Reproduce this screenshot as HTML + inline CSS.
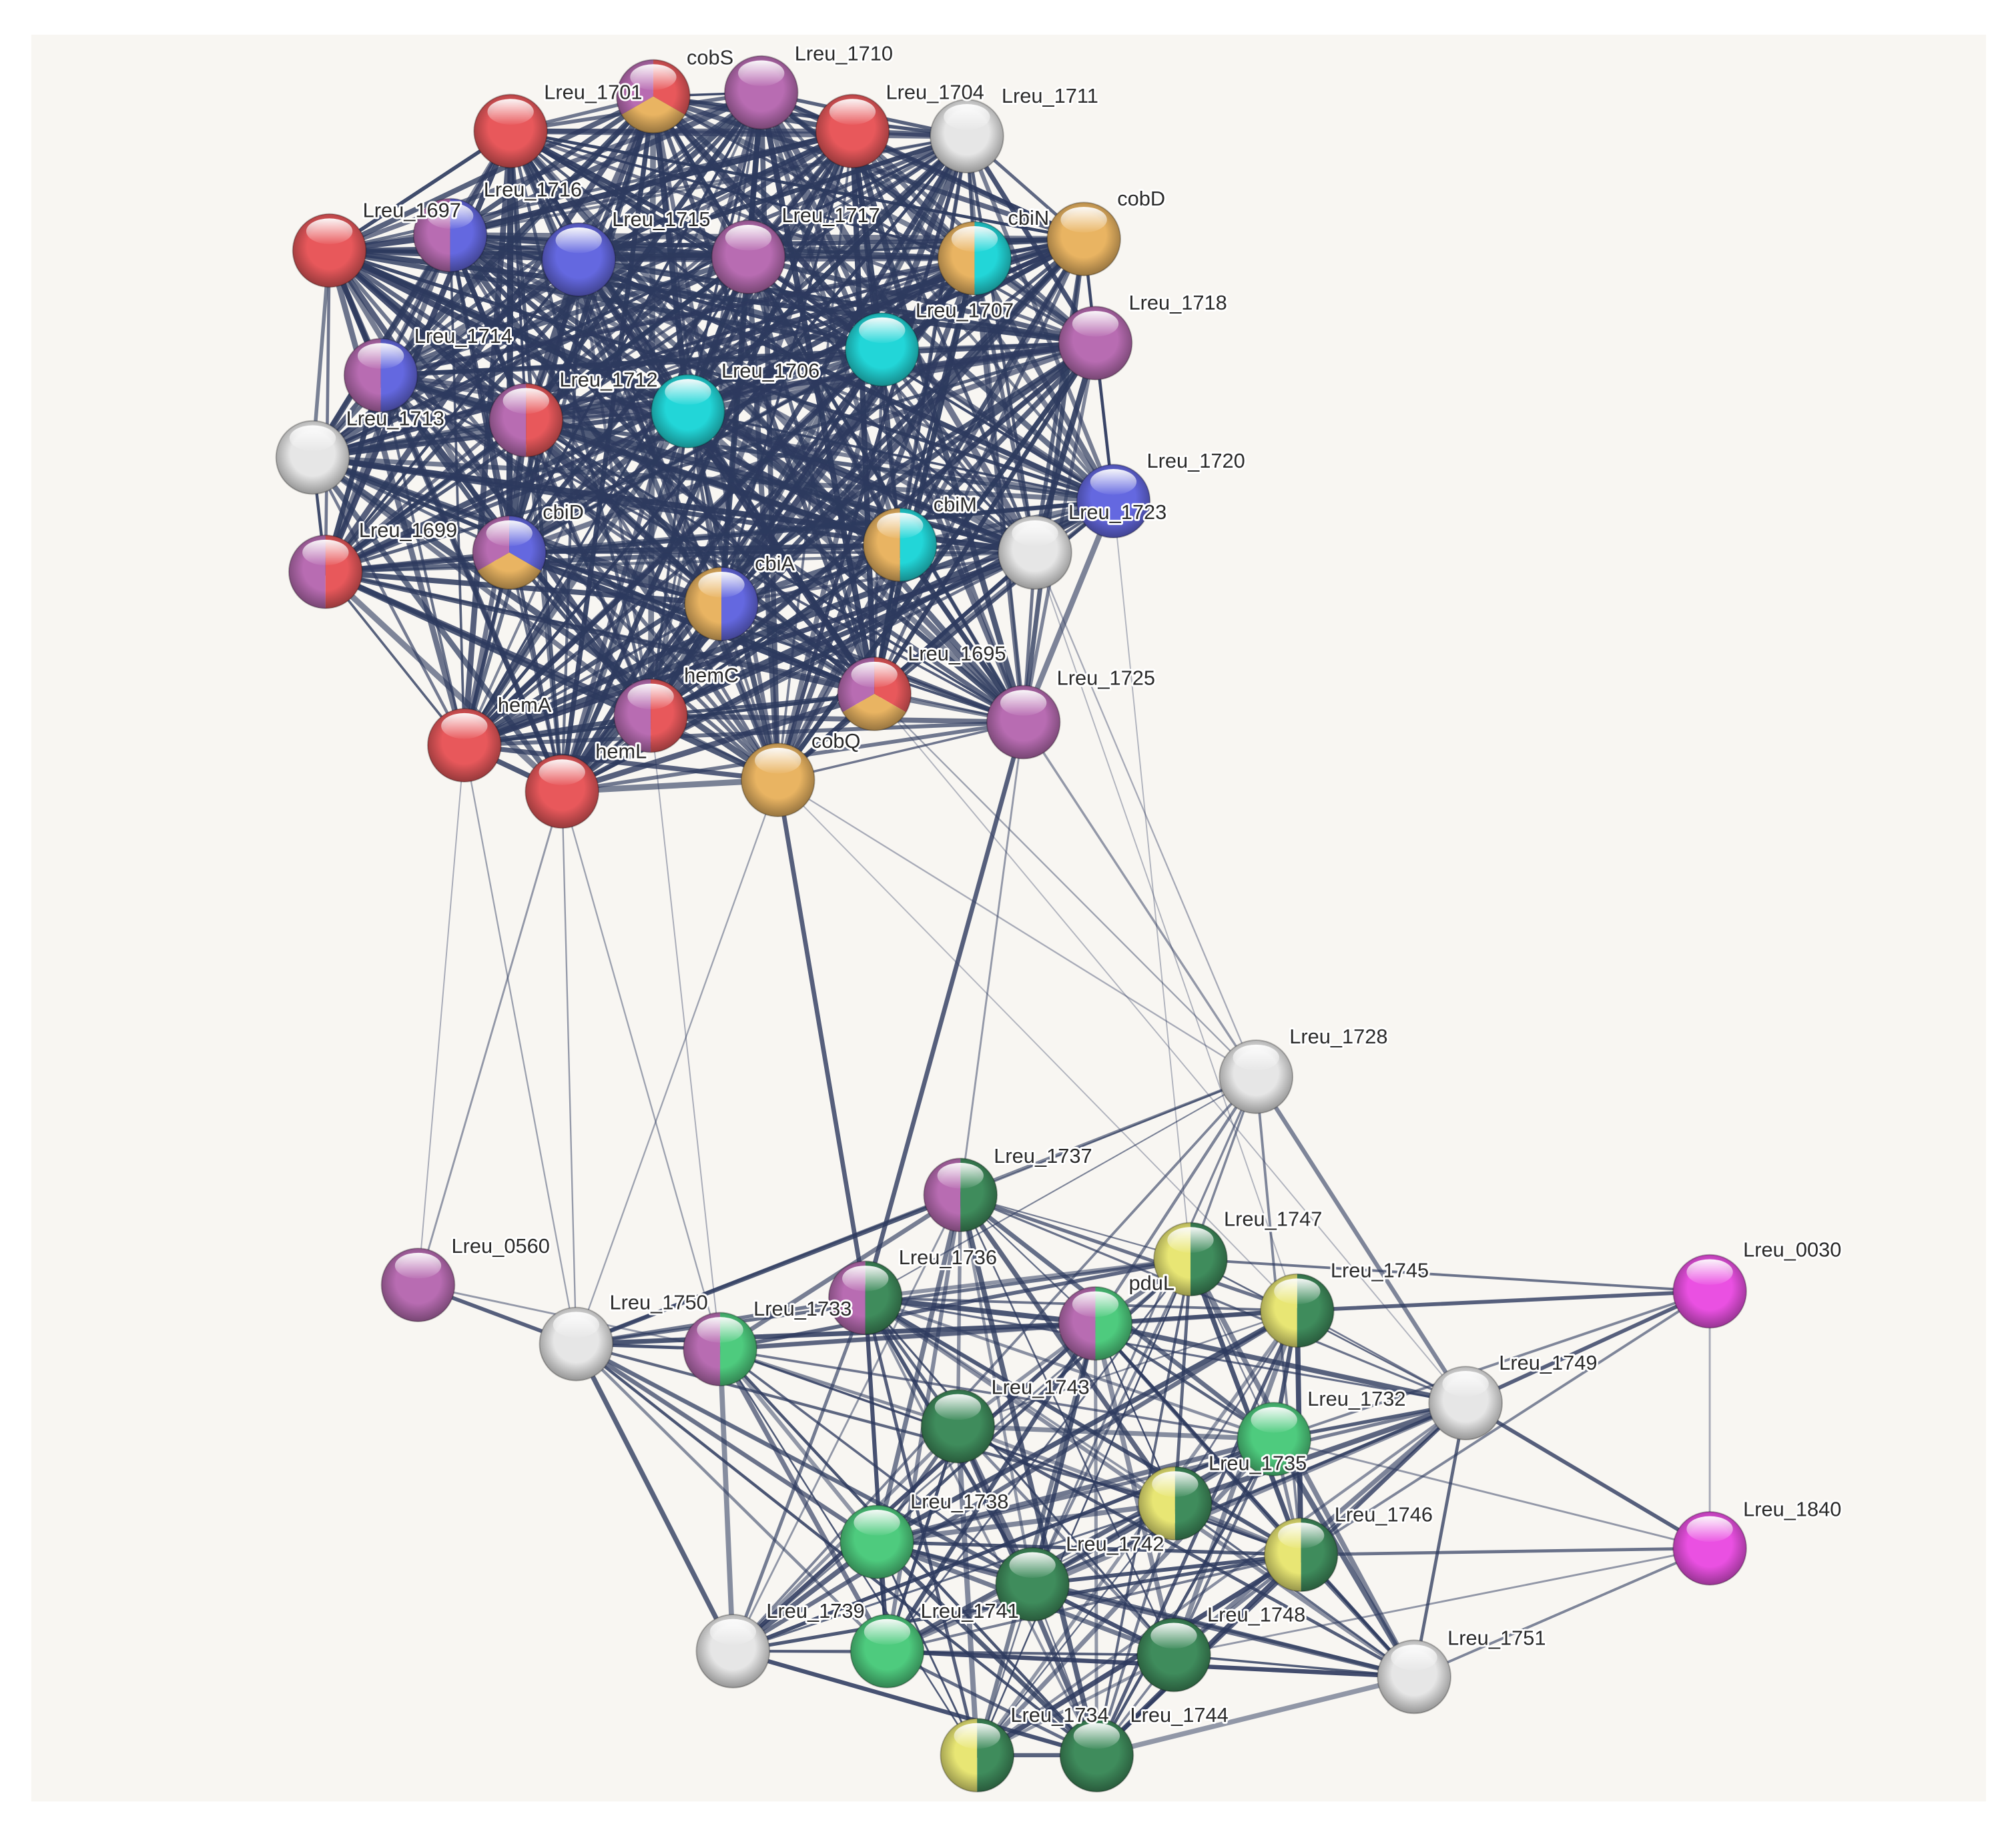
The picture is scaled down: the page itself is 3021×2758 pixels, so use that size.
<!DOCTYPE html>
<html><head><meta charset="utf-8"><style>
html,body{margin:0;padding:0;background:#fff;}
svg{display:block}
text{font-family:"Liberation Sans",Arial,sans-serif;font-size:16px;fill:#2a2a2a;stroke:#fff;stroke-width:3px;paint-order:stroke;stroke-linejoin:round}
</style></head><body>
<svg id="s" width="3021" height="2758" viewBox="0 0 1568 1432" xmlns="http://www.w3.org/2000/svg">
<defs>
<radialGradient id="shade" cx="50%" cy="45%" r="55%">
<stop offset="0.55" stop-color="#000" stop-opacity="0"/>
<stop offset="1" stop-color="#000" stop-opacity="0.35"/>
</radialGradient>
<linearGradient id="gloss" x1="0" y1="0" x2="0" y2="1">
<stop offset="0" stop-color="#fff" stop-opacity="0.95"/>
<stop offset="1" stop-color="#fff" stop-opacity="0.05"/>
</linearGradient>
</defs>
<rect x="0" y="0" width="1568" height="1432" fill="#fff"/>
<rect x="24" y="27" width="1521" height="1375" fill="#f8f6f2"/>
<g id="edges"></g>
<g id="nodes"></g>
<g id="labels">
<text x="534" y="50">cobS</text>
<text x="618" y="47">Lreu_1710</text>
<text x="423" y="77">Lreu_1701</text>
<text x="689" y="77">Lreu_1704</text>
<text x="779" y="80">Lreu_1711</text>
<text x="282" y="169">Lreu_1697</text>
<text x="376" y="153">Lreu_1716</text>
<text x="476" y="176">Lreu_1715</text>
<text x="608" y="173">Lreu_1717</text>
<text x="784" y="175">cbiN</text>
<text x="869" y="160">cobD</text>
<text x="712" y="247">Lreu_1707</text>
<text x="878" y="241">Lreu_1718</text>
<text x="322" y="267">Lreu_1714</text>
<text x="435" y="301">Lreu_1712</text>
<text x="561" y="294">Lreu_1706</text>
<text x="269" y="331">Lreu_1713</text>
<text x="892" y="364">Lreu_1720</text>
<text x="831" y="404">Lreu_1723</text>
<text x="726" y="398">cbiM</text>
<text x="279" y="418">Lreu_1699</text>
<text x="422" y="404">cbiD</text>
<text x="587" y="444">cbiA</text>
<text x="706" y="514">Lreu_1695</text>
<text x="822" y="533">Lreu_1725</text>
<text x="532" y="531">hemC</text>
<text x="387" y="554">hemA</text>
<text x="463" y="590">hemL</text>
<text x="631" y="582">cobQ</text>
<text x="1003" y="812">Lreu_1728</text>
<text x="773" y="905">Lreu_1737</text>
<text x="351" y="975">Lreu_0560</text>
<text x="952" y="954">Lreu_1747</text>
<text x="699" y="984">Lreu_1736</text>
<text x="474" y="1019">Lreu_1750</text>
<text x="586" y="1024">Lreu_1733</text>
<text x="878" y="1004">pduL</text>
<text x="1035" y="994">Lreu_1745</text>
<text x="1356" y="978">Lreu_0030</text>
<text x="1166" y="1066">Lreu_1749</text>
<text x="771" y="1085">Lreu_1743</text>
<text x="1017" y="1094">Lreu_1732</text>
<text x="940" y="1144">Lreu_1735</text>
<text x="708" y="1174">Lreu_1738</text>
<text x="1038" y="1184">Lreu_1746</text>
<text x="1356" y="1180">Lreu_1840</text>
<text x="829" y="1207">Lreu_1742</text>
<text x="596" y="1259">Lreu_1739</text>
<text x="716" y="1259">Lreu_1741</text>
<text x="939" y="1262">Lreu_1748</text>
<text x="1126" y="1280">Lreu_1751</text>
<text x="786" y="1340">Lreu_1734</text>
<text x="879" y="1340">Lreu_1744</text>
</g>
</svg>
<script>
var R='#e8585b',P='#b86cb2',B='#6468e0',C='#22d6d8',O='#e9b462',W='#e6e6e6',D='#3f8c5c',L='#4ecb7e',Y='#e8e674',M='#ea50e2';
var N={
cobS:[508,75,[P,R,O]],l1710:[592,72,[P]],l1701:[397,102,[R]],l1704:[663,102,[R]],l1711:[752,106,[W]],
l1697:[256,195,[R]],l1716:[350,183,[P,B]],l1715:[450,202,[B]],l1717:[582,200,[P]],cbiN:[758,201,[O,C]],cobD:[843,186,[O]],
l1707:[686,272,[C]],l1718:[852,267,[P]],l1714:[296,292,[P,B]],l1712:[409,327,[P,R]],l1706:[535,320,[C]],l1713:[243,356,[W]],
l1720:[866,390,[B]],l1723:[805,430,[W]],cbiM:[700,424,[O,C]],l1699:[253,445,[P,R]],cbiD:[396,430,[P,B,O]],cbiA:[561,470,[O,B]],
l1695:[680,540,[P,R,O]],l1725:[796,562,[P]],hemC:[506,557,[P,R]],hemA:[361,580,[R]],hemL:[437,616,[R]],cobQ:[605,607,[O]],
l1728:[977,838,[W]],l1737:[747,930,[P,D]],l0560:[325,1000,[P]],l1747:[926,980,[Y,D]],l1736:[673,1010,[P,D]],l1750:[448,1046,[W]],
l1733:[560,1050,[P,L]],pduL:[852,1030,[P,L]],l1745:[1009,1020,[Y,D]],l0030:[1330,1005,[M]],l1749:[1140,1092,[W]],
l1743:[745,1110,[D]],l1732:[991,1120,[L]],l1735:[914,1170,[Y,D]],l1738:[682,1200,[L]],l1746:[1012,1210,[Y,D]],
l1840:[1330,1205,[M]],l1742:[803,1233,[D]],l1739:[570,1285,[W]],l1741:[690,1285,[L]],l1748:[913,1288,[D]],l1751:[1100,1305,[W]],
l1734:[760,1366,[Y,D]],l1744:[853,1366,[D]]};
var topN=['cobS','l1710','l1701','l1704','l1711','l1697','l1716','l1715','l1717','cbiN','cobD','l1707','l1718','l1714','l1712','l1706','l1713','l1720','l1723','cbiM','l1699','cbiD','cbiA','l1695','l1725','hemC','hemA','hemL','cobQ'];
var bot=['l1728','l1737','l1747','l1736','l1750','l1733','pduL','l1745','l1749','l1743','l1732','l1735','l1738','l1746','l1742','l1739','l1741','l1748','l1751','l1734','l1744'];
var seed=7;function rnd(){seed=(seed*16807)%2147483647;return seed/2147483647;}
var eg=document.getElementById('edges'),h='';
function line(a,b,w,op){var p=N[a],q=N[b];h+='<line x1="'+p[0]+'" y1="'+p[1]+'" x2="'+q[0]+'" y2="'+q[1]+'" stroke="#2d3a5e" stroke-width="'+w+'" stroke-opacity="'+op+'" stroke-linecap="round"/>';}
for(var i=0;i<topN.length;i++)for(var j=i+1;j<topN.length;j++){line(topN[i],topN[j],(1.8+rnd()*3).toFixed(1),(0.6+rnd()*0.35).toFixed(2));}
for(var i=0;i<bot.length;i++)for(var j=i+1;j<bot.length;j++){var p=N[bot[i]],q=N[bot[j]];var d=Math.hypot(p[0]-q[0],p[1]-q[1]);
 if(bot[i]=='l1728'||bot[j]=='l1728'){if(rnd()<0.6)line(bot[i],bot[j],(1+rnd()*2.5).toFixed(1),0.6);continue;}
 if(d<520&&rnd()<0.85)line(bot[i],bot[j],(1.2+rnd()*3).toFixed(1),(0.5+rnd()*0.4).toFixed(2));}
var extra=[['l0560','l1750',3,0.8],['l0560','l1733',1.5,0.5],['l0030','l1745',3,0.8],['l0030','l1747',2,0.7],['l0030','l1749',3,0.8],['l0030','l1840',1.5,0.4],['l0030','l1746',2,0.6],['l0030','l1732',2,0.6],
['l1840','l1749',3,0.8],['l1840','l1746',2.5,0.7],['l1840','l1751',2,0.6],['l1840','l1748',1.5,0.5],['l1840','l1732',1.5,0.5],
['hemA','l0560',1,0.4],['hemL','l0560',1.5,0.5],['hemA','l1750',1.2,0.45],['hemL','l1733',1.2,0.45],['hemC','l1733',1,0.4],['hemL','l1750',1.2,0.5],
['cobQ','l1736',3.5,0.8],['cobQ','l1750',1.2,0.45],['l1725','l1736',3.5,0.8],['l1725','l1728',1.8,0.5],['l1723','l1728',1.2,0.4],['l1720','l1747',1,0.35],
['l1695','l1728',1.2,0.45],['cobQ','l1728',1.2,0.4],['l1725','l1737',1.5,0.5],['l1723','l1745',1,0.35],['l1695','l1749',1,0.35],['cobQ','l1745',1,0.35]];
extra.forEach(function(e){line(e[0],e[1],e[2],e[3]);});
eg.innerHTML=h;
var r=28.5,g='';
function pt(a){return [r*Math.cos(a*Math.PI/180),r*Math.sin(a*Math.PI/180)];}
for(var k in N){var n=N[k],x=n[0],y=n[1],c=n[2];g+='<g transform="translate('+x+','+y+')">';
 if(c.length==1)g+='<circle r="'+r+'" fill="'+c[0]+'"/>';
 else if(c.length==2){g+='<path d="M0,'+(-r)+' A'+r+','+r+' 0 0 0 0,'+r+' Z" fill="'+c[0]+'"/><path d="M0,'+(-r)+' A'+r+','+r+' 0 0 1 0,'+r+' Z" fill="'+c[1]+'"/>';}
 else{var s=[[150,270],[270,390],[30,150]];for(var t=0;t<3;t++){var a=pt(s[t][0]),b=pt(s[t][1]);g+='<path d="M0,0 L'+a[0].toFixed(2)+','+a[1].toFixed(2)+' A'+r+','+r+' 0 0 1 '+b[0].toFixed(2)+','+b[1].toFixed(2)+' Z" fill="'+c[t]+'"/>';}}
 g+='<circle r="'+r+'" fill="url(#shade)"/><ellipse cx="0" cy="-15" rx="18" ry="10" fill="url(#gloss)"/><circle r="'+r+'" fill="none" stroke="#000" stroke-opacity="0.25" stroke-width="1"/></g>';}
document.getElementById('nodes').innerHTML=g;
</script>
</body></html>
